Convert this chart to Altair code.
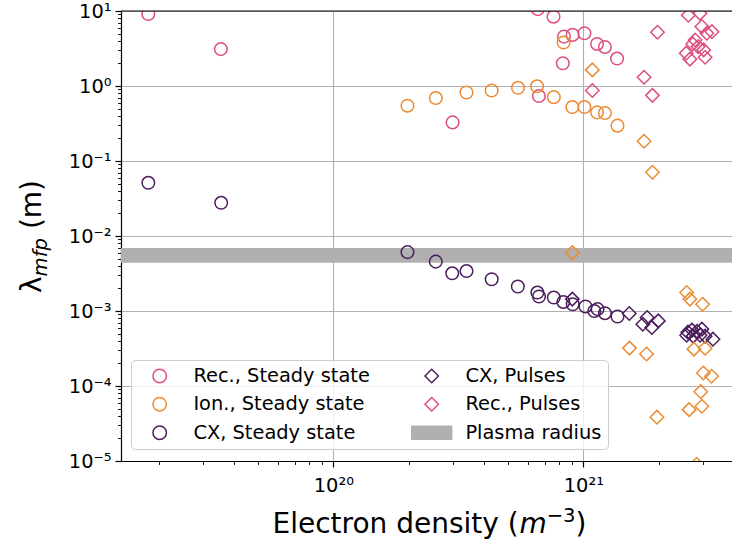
import altair as alt
import pandas as pd

# ---------------- data ----------------
rec_ss_x = [1.82e19, 3.55e19, 3.0e20, 6.57e20, 7.6e20, 8.37e20, 9.06e20, 1.01e21, 1.135e21, 1.22e21, 1.365e21, 8.28e20, 6.64e20]
rec_ss_y = [9.1, 3.1, 0.327, 10.6, 8.4, 4.55, 4.8, 5.05, 3.64, 3.32, 2.32, 2.01, 0.734]

ion_ss_x = [1.98e20, 2.57e20, 3.41e20, 4.3e20, 5.48e20, 6.53e20, 7.62e20, 9.04e20, 1.01e21, 1.135e21, 1.22e21, 1.37e21, 8.34e20]
ion_ss_y = [0.546, 0.69, 0.82, 0.87, 0.946, 0.99, 0.71, 0.524, 0.524, 0.445, 0.436, 0.296, 3.8]

cx_ss_x = [1.82e19, 3.56e19, 1.98e20, 2.57e20, 2.99e20, 3.41e20, 4.3e20, 5.47e20, 6.55e20, 6.65e20, 7.62e20, 8.32e20, 9.07e20, 1.02e21, 1.107e21, 1.14e21, 1.22e21, 1.37e21]
cx_ss_y = [0.0512, 0.0277, 0.0061, 0.00455, 0.00318, 0.00341, 0.00265, 0.00212, 0.00176, 0.00156, 0.00151, 0.00132, 0.00123, 0.00115, 0.00100, 0.00106, 0.000935, 0.000845]

cx_p_x = [9.04e20, 1.527e21, 1.73e21, 1.8e21, 1.88e21, 1.995e21, 2.62e21, 2.72e21, 2.85e21, 2.93e21, 3.07e21, 3.3e21, 2.75e21, 2.98e21, 2.59e21]
cx_p_y = [0.00144, 0.000927, 0.000667, 0.000818, 0.000603, 0.000738, 0.000522, 0.000556, 0.000538, 0.000476, 0.000462, 0.000421, 0.000462, 0.000573, 0.000476]

rec_p_x = [1.087e21, 1.75e21, 1.89e21, 1.98e21, 2.63e21, 2.93e21, 2.98e21, 3.27e21, 3.12e21, 2.8e21, 2.88e21, 3.03e21, 2.58e21, 2.67e21, 3.07e21, 2.74e21]
rec_p_y = [0.87, 1.31, 0.75, 5.2, 8.8, 9.3, 6.2, 5.3, 5.05, 4.1, 3.35, 3.03, 2.74, 2.28, 2.42, 3.64]

ion_p_x = [9.04e20, 1.087e21, 1.75e21, 1.89e21, 1.53e21, 1.79e21, 1.97e21, 2.59e21, 2.67e21, 3.0e21, 2.77e21, 3.07e21, 3.02e21, 3.26e21, 2.95e21, 2.65e21, 2.98e21, 2.84e21]
ion_p_y = [0.006, 1.64, 0.183, 0.0708, 0.00032, 0.000267, 3.84e-5, 0.00176, 0.00144, 0.00123, 0.00031, 0.000318, 0.000149, 0.000135, 8.4e-5, 4.84e-5, 5.37e-5, 9.0e-6]

plasma_radius_low = [0.0044]
plasma_radius_high = [0.0069]

x_major = [1e20, 1e21]
x_major_labels = ["10²⁰", "10²¹"]
x_minor = [m * 1e19 for m in range(2, 10)] + [m * 1e20 for m in range(2, 10)] + [2e21, 3e21]
y_major = [10, 1, 0.1, 0.01, 0.001, 0.0001, 0.00001]
y_major_labels = ["10¹", "10⁰", "10⁻¹", "10⁻²", "10⁻³", "10⁻⁴", "10⁻⁵"]
y_minor = [m * d for d in [1e-5, 1e-4, 1e-3, 1e-2, 1e-1, 1] for m in range(2, 10)]

# ---------------- styling ----------------
FONT = "DejaVu Sans"
PINK = "#de4f7c"
ORANGE = "#ea8c35"
PURPLE = "#4b1d5c"
GRAY = "#b0b0b0"
W, H = 611, 450
XDOM = [1.415e19, 3.933e21]
YDOM = [1e-5, 10]

legend_order = ["Rec., Steady state", "Ion., Steady state", "CX, Steady state",
                "CX, Pulses", "Rec., Pulses", "Plasma radius"]
BAR = "M-2.96,-0.96L2.96,-0.96L2.96,0.96L-2.96,0.96Z"
stroke_range = [PINK, ORANGE, PURPLE, PURPLE, PINK, GRAY]
fill_range = ["transparent"] * 5 + [GRAY]
shape_range = ["circle", "circle", "circle", "diamond", "diamond", BAR]

rows = []
for name, xs_, ys_ in [("Rec., Steady state", rec_ss_x, rec_ss_y),
                       ("Ion., Steady state", ion_ss_x, ion_ss_y),
                       ("CX, Steady state", cx_ss_x, cx_ss_y),
                       ("CX, Pulses", cx_p_x, cx_p_y),
                       ("Rec., Pulses", rec_p_x, rec_p_y)]:
    for a, b in zip(xs_, ys_):
        rows.append({"ne": a, "lam": b, "series": name})
pts = pd.DataFrame(rows)
ionp = pd.DataFrame({"ne": ion_p_x, "lam": ion_p_y})
band = pd.DataFrame({"lo": plasma_radius_low, "hi": plasma_radius_high})
one = pd.DataFrame({"k": [0]})


def label_expr(vals, labels):
    s = "''"
    for v, l in reversed(list(zip(vals, labels))):
        s = f"datum.value == {v!r} ? '{l}' : ({s})"
    return s


def major_test(vals):
    return "indexof([" + ",".join(repr(v) for v in vals) + "], datum.value) >= 0"


def make_axis(major, labels, minor, pad):
    t = major_test(major)
    return alt.Axis(
        values=sorted(major + minor),
        labelExpr=label_expr(major, labels),
        title=None,
        labelFont=FONT, labelFontSize=19.4, labelColor="black",
        labelPadding=pad, labelOverlap=False, labelFlush=False, labelBound=False,
        domainColor="black", domainWidth=1.2,
        tickColor="black",
        tickSize={"condition": {"test": t, "value": 6}, "value": 3.5},
        tickWidth={"condition": {"test": t, "value": 1.2}, "value": 0.9},
        grid=True, gridColor=GRAY, gridWidth=1.1,
        gridOpacity={"condition": {"test": t, "value": 1}, "value": 0},
    )


xax = make_axis(x_major, x_major_labels, x_minor, 9)
yax = make_axis(y_major, y_major_labels, y_minor, 4)
xs = alt.Scale(type="log", domain=XDOM, nice=False, zero=False)
ys = alt.Scale(type="log", domain=YDOM, nice=False, zero=False)

leg = alt.Legend(title=None, orient="none", legendX=10, legendY=349, columns=2,
                 columnPadding=38, rowPadding=7.5, padding=6, symbolOffset=13,
                 labelOffset=24, labelFont=FONT, labelFontSize=19.4, labelColor="black",
                 labelLimit=400, symbolSize=182, symbolStrokeWidth=1.5,
                 fillColor="rgba(255,255,255,0.8)", strokeColor="#cccccc",
                 cornerRadius=4)

band_layer = alt.Chart(band).mark_rect(color=GRAY, clip=True).encode(
    y=alt.Y("lo:Q", scale=ys, axis=yax), y2="hi:Q",
    x=alt.value(0), x2=alt.value(W))

pts_layer = alt.Chart(pts).mark_point(strokeWidth=1.5, opacity=1, clip=True).encode(
    x=alt.X("ne:Q", scale=xs, axis=xax),
    y=alt.Y("lam:Q", scale=ys, axis=yax),
    stroke=alt.Stroke("series:N", scale=alt.Scale(domain=legend_order, range=stroke_range), legend=leg),
    fill=alt.Fill("series:N", scale=alt.Scale(domain=legend_order, range=fill_range), legend=leg),
    shape=alt.Shape("series:N", scale=alt.Scale(domain=legend_order, range=shape_range), legend=leg),
    size=alt.condition("indexof(datum.series, 'Pulses') >= 0", alt.value(182), alt.value(158)),
)

ionp_layer = alt.Chart(ionp).mark_point(strokeWidth=1.5, opacity=1, clip=True, shape="diamond",
                                        size=182, stroke=ORANGE, fill="transparent").encode(
    x=alt.X("ne:Q", scale=xs, axis=xax),
    y=alt.Y("lam:Q", scale=ys, axis=yax),
)

top_spine = alt.Chart(one).mark_rule(color="black", strokeWidth=1.2).encode(
    x=alt.value(0), x2=alt.value(W), y=alt.value(0))


def txt(t, x, y, size=28, angle=0, style="normal"):
    kw = dict(text=t, align="left", baseline="alphabetic", font=FONT, fontSize=size,
              color="black", fontStyle=style)
    if angle:
        kw["angle"] = angle
    return alt.Chart(one).mark_text(**kw).encode(x=alt.value(x), y=alt.value(y))


titles = [
    txt("Electron density (", 151.5, 522),
    txt("m", 398.4, 522, style="italic"),
    txt("−3", 425.7, 511, size=19.6),
    txt(")", 454.6, 522),
    txt("λ", -80, 282, angle=270),
    txt("mfp", -74, 265.4, size=19.6, angle=270, style="italic"),
    txt("(m)", -80, 218.1, angle=270),
]

chart = alt.layer(band_layer, pts_layer, ionp_layer, top_spine, *titles).properties(
    width=W, height=H,
    padding={"left": 121, "top": 11, "right": 0, "bottom": 83},
    autosize=alt.AutoSizeParams(type="none"),
    background="white",
).configure_view(stroke=None)

chart.save("out.html", embed_options={"renderer": "svg", "actions": False})
